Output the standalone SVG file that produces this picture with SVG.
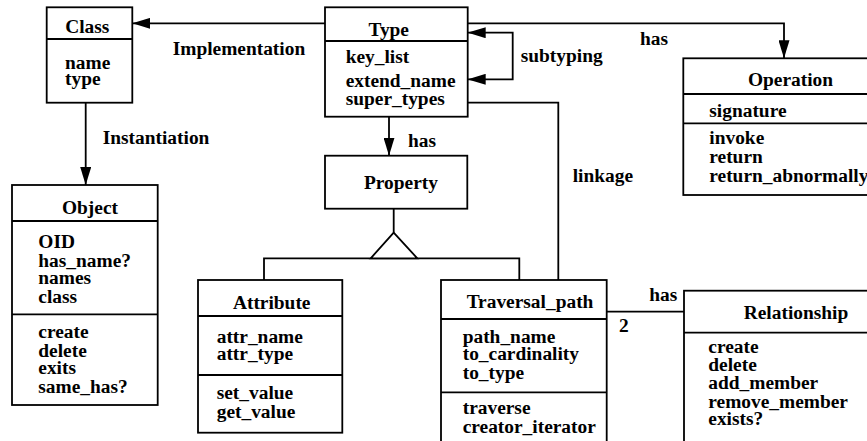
<svg xmlns="http://www.w3.org/2000/svg" width="867" height="441" viewBox="0 0 867 441">
<style>
  .box { fill: #fff; stroke: #000; stroke-width: 1.8; }
  .div { stroke: #000; stroke-width: 1.8; fill: none; }
  .ln { stroke: #000; stroke-width: 1.8; fill: none; }
  text { font-family: 'Liberation Serif', 'Times New Roman', Times, 'DejaVu Serif', serif; font-weight: bold; font-size: 19.4px; fill: #000; }
  .t { text-anchor: middle; }
</style>
<defs>
  <marker id="arr" viewBox="0 0 18 11" refX="18" refY="5.5" markerWidth="18" markerHeight="11" markerUnits="userSpaceOnUse" orient="auto-start-reverse">
    <path d="M0,0 L18,5.5 L0,11 z" fill="#000"/>
  </marker>
</defs>
<rect width="867" height="441" fill="#fff"/>

<g id="connectors">
  <path class="ln" d="M325,23.3 H132.3" marker-end="url(#arr)"/>
  <path class="ln" d="M467.7,23.3 H784 V58.3" marker-end="url(#arr)"/>
  <path class="ln" d="M467.7,32.7 H512.7 V79.3 H467.7" marker-start="url(#arr)" marker-end="url(#arr)"/>
  <path class="ln" d="M85.7,102.7 V185" marker-end="url(#arr)"/>
  <path class="ln" d="M389,116.7 V155.7" marker-end="url(#arr)"/>
  <path class="ln" d="M467.7,102.7 H558.3 V280"/>
  <path class="ln" d="M393.7,208.7 V232.7"/>
  <path class="ln" d="M264,280 V258.3 H519.3 V280"/>
  <polygon points="393.7,232.7 370.7,258.3 417.3,258.3" fill="#fff" stroke="#000" stroke-width="1.8"/>
  <path class="ln" d="M606.7,311.7 H684"/>
  <text x="172.7" y="55">Implementation</text>
  <text x="102.7" y="144">Instantiation</text>
  <text x="408" y="146.7">has</text>
  <text x="520.7" y="61.7">subtyping</text>
  <text x="640" y="45">has</text>
  <text x="572.7" y="181.7">linkage</text>
  <text x="649.3" y="300.7">has</text>
  <text x="619" y="332.3">2</text>
</g>

<g id="class">
  <rect class="box" x="46.7" y="7.3" width="85.6" height="95.4"/>
  <line class="div" x1="46.7" y1="39" x2="132.3" y2="39"/>
  <text class="t" x="87.3" y="33">Class</text>
  <text x="65" y="69">name</text>
  <text x="65" y="85">type</text>
</g>

<g id="type">
  <rect class="box" x="325" y="7.3" width="142.7" height="109.4"/>
  <line class="div" x1="325" y1="41" x2="467.7" y2="41"/>
  <text class="t" x="388.7" y="36">Type</text>
  <text x="345.7" y="63.3">key_list</text>
  <text x="345.7" y="86.7">extend_name</text>
  <text x="345.7" y="105">super_types</text>
</g>

<g id="operation">
  <rect class="box" x="683.3" y="58.3" width="200" height="136.7"/>
  <line class="div" x1="683.3" y1="94" x2="883.3" y2="94"/>
  <line class="div" x1="683.3" y1="123.3" x2="883.3" y2="123.3"/>
  <text class="t" x="790.5" y="86">Operation</text>
  <text x="709.3" y="116.7">signature</text>
  <text x="709.3" y="144">invoke</text>
  <text x="709.3" y="163.3">return</text>
  <text x="709.3" y="181.7">return_abnormally</text>
</g>

<g id="property">
  <rect class="box" x="325" y="155.7" width="142.3" height="53"/>
  <text class="t" x="401" y="189.3">Property</text>
</g>

<g id="object">
  <rect class="box" x="12" y="185" width="145.7" height="220"/>
  <line class="div" x1="12" y1="221" x2="157.7" y2="221"/>
  <line class="div" x1="12" y1="314.3" x2="157.7" y2="314.3"/>
  <text class="t" x="90" y="214.3">Object</text>
  <text x="38.3" y="248.3">OID</text>
  <text x="38.3" y="266.7">has_name?</text>
  <text x="38.3" y="284.3">names</text>
  <text x="38.3" y="302.7">class</text>
  <text x="38.3" y="338.3">create</text>
  <text x="38.3" y="356.7">delete</text>
  <text x="38.3" y="374.3">exits</text>
  <text x="38.3" y="392.7">same_has?</text>
</g>

<g id="attribute">
  <rect class="box" x="198" y="280" width="144.3" height="152.7"/>
  <line class="div" x1="198" y1="316" x2="342.3" y2="316"/>
  <line class="div" x1="198" y1="375" x2="342.3" y2="375"/>
  <text class="t" x="271.7" y="309.3">Attribute</text>
  <text x="216.7" y="342.7">attr_name</text>
  <text x="216.7" y="360">attr_type</text>
  <text x="216.7" y="399.3">set_value</text>
  <text x="216.7" y="417.7">get_value</text>
</g>

<g id="traversal_path">
  <rect class="box" x="441" y="280" width="165.7" height="180"/>
  <line class="div" x1="441" y1="319" x2="606.7" y2="319"/>
  <line class="div" x1="441" y1="392.3" x2="606.7" y2="392.3"/>
  <text class="t" x="530" y="307.7">Traversal_path</text>
  <text x="462.7" y="342.7">path_name</text>
  <text x="462.7" y="360">to_cardinality</text>
  <text x="462.7" y="379.3">to_type</text>
  <text x="462.7" y="414">traverse</text>
  <text x="462.7" y="432.7">creator_iterator</text>
</g>

<g id="relationship">
  <rect class="box" x="684" y="290.7" width="200" height="200"/>
  <line class="div" x1="684" y1="332.7" x2="884" y2="332.7"/>
  <text class="t" x="796" y="319.3">Relationship</text>
  <text x="708.3" y="353.3">create</text>
  <text x="708.3" y="371">delete</text>
  <text x="708.3" y="389.3">add_member</text>
  <text x="708.3" y="408.3">remove_member</text>
  <text x="708.3" y="425">exists?</text>
</g>
</svg>
